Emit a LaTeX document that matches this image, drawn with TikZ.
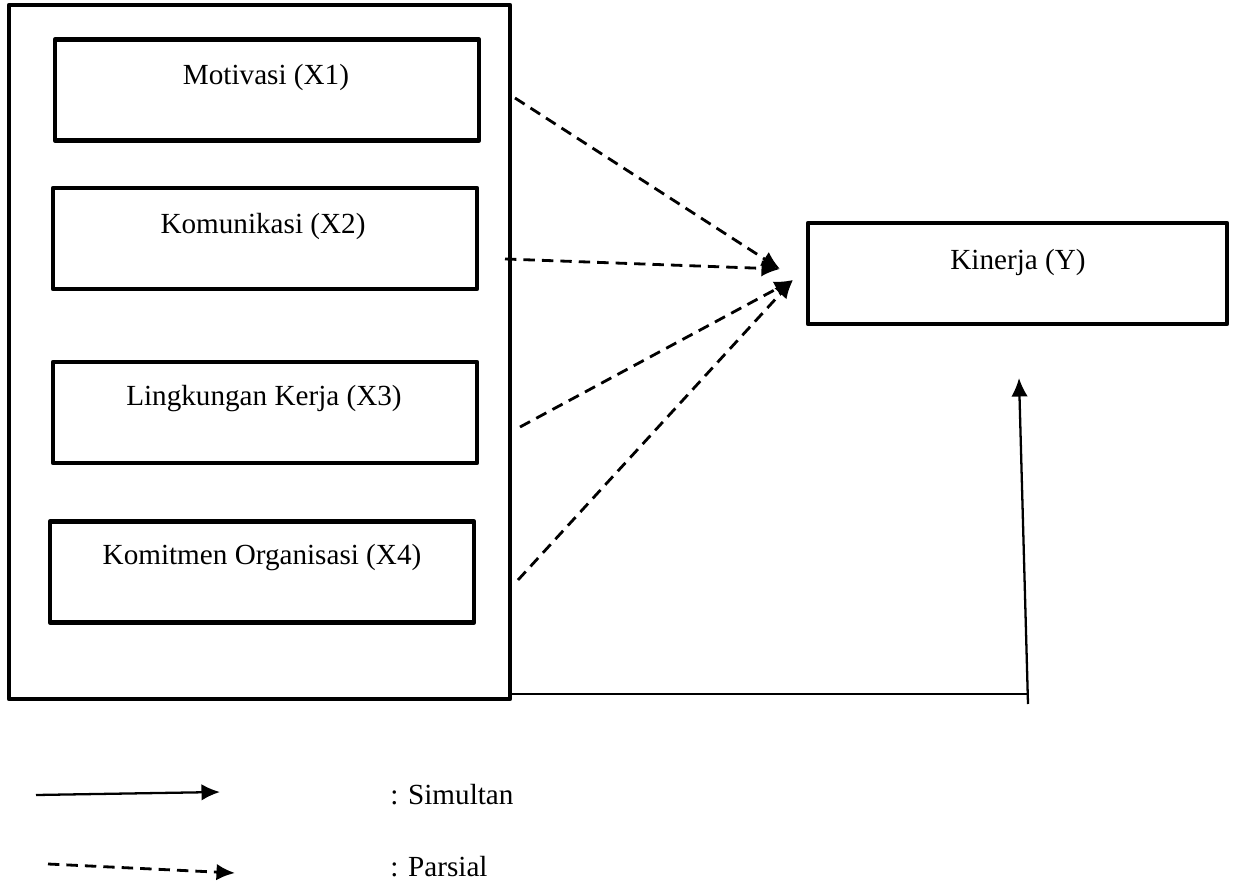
\documentclass[tikz,border=0pt]{standalone}
\usepackage{fontspec}
\setmainfont{Liberation Serif}
\usepackage{tikz}
\usetikzlibrary{arrows.meta, calc}
\tikzset{>={Latex[length=0.37cm, width=0.33cm]}}
\tikzset{
  varbox/.style={draw, line width=2.7pt, line join=round, minimum width=8.48cm, minimum height=2.02cm, inner sep=0pt},
  varlbl/.style={font=\fontsize{16.6}{20}\selectfont, inner sep=0pt},
  simul/.style={line width=1.3pt},
  parsial/.style={line width=1.6pt, dash pattern=on 6.5pt off 4pt}
}

\begin{document}
\begin{tikzpicture}[x=0.02cm, y=-0.02cm]
\useasboundingbox (0,0) rectangle (1234,881);

\node[varbox, minimum width=10.02cm, minimum height=13.88cm] (frame) at (259.5,352) {};
\node[varbox] (x1) at (267,90) {};
\node[varbox] (x2) at (265,238.5) {};
\node[varbox] (x3) at (265,412.5) {};
\node[varbox] (x4) at (262,572) {};
\node[varbox, minimum width=8.38cm] (kin) at (1017.5,273.5) {};

\node[varlbl] (t1) at (266,77) {Motivasi (X1)};
\node[varlbl] (t2) at (263,226) {Komunikasi (X2)};
\node[varlbl] (t3) at (264,399) {Lingkungan Kerja (X3)};
\node[varlbl] (t4) at (262,558) {Komitmen Organisasi (X4)};
\node[varlbl] (ty) at (1018,262) {Kinerja (Y)};

\coordinate (d1) at (515,98);
\coordinate (d2) at (505,259);
\coordinate (d3) at (520,427);
\coordinate (d4) at (518,580);
\coordinate (hubA) at (780,269);
\coordinate (hubB) at (793,280);

\draw[parsial, ->] (d1) -- (hubA);
\draw[parsial, ->] (d2) -- (hubA);
\draw[parsial, ->] (d3) -- (hubB);
\draw[parsial, ->] (d4) -- (hubB);

\coordinate (corner) at (1028,694);
\coordinate (sbot) at (1028,704);
\coordinate (stip) at (1019,378);
\draw[simul] (frame.east |- corner) -- (corner);
\draw[simul, ->] (sbot) -- (stip);

\coordinate (ls1) at (36,795);
\coordinate (ls2) at (220,792);
\coordinate (lp1) at (48,864);
\coordinate (lp2) at (235,873);
\draw[simul, ->] (ls1) -- (ls2);
\draw[parsial, ->] (lp1) -- (lp2);
\node[varlbl, anchor=west] (lsim) at (390,795) {: Simultan};
\node[varlbl, anchor=west] (lpar) at (390,867) {: Parsial};
\end{tikzpicture}
\end{document}
